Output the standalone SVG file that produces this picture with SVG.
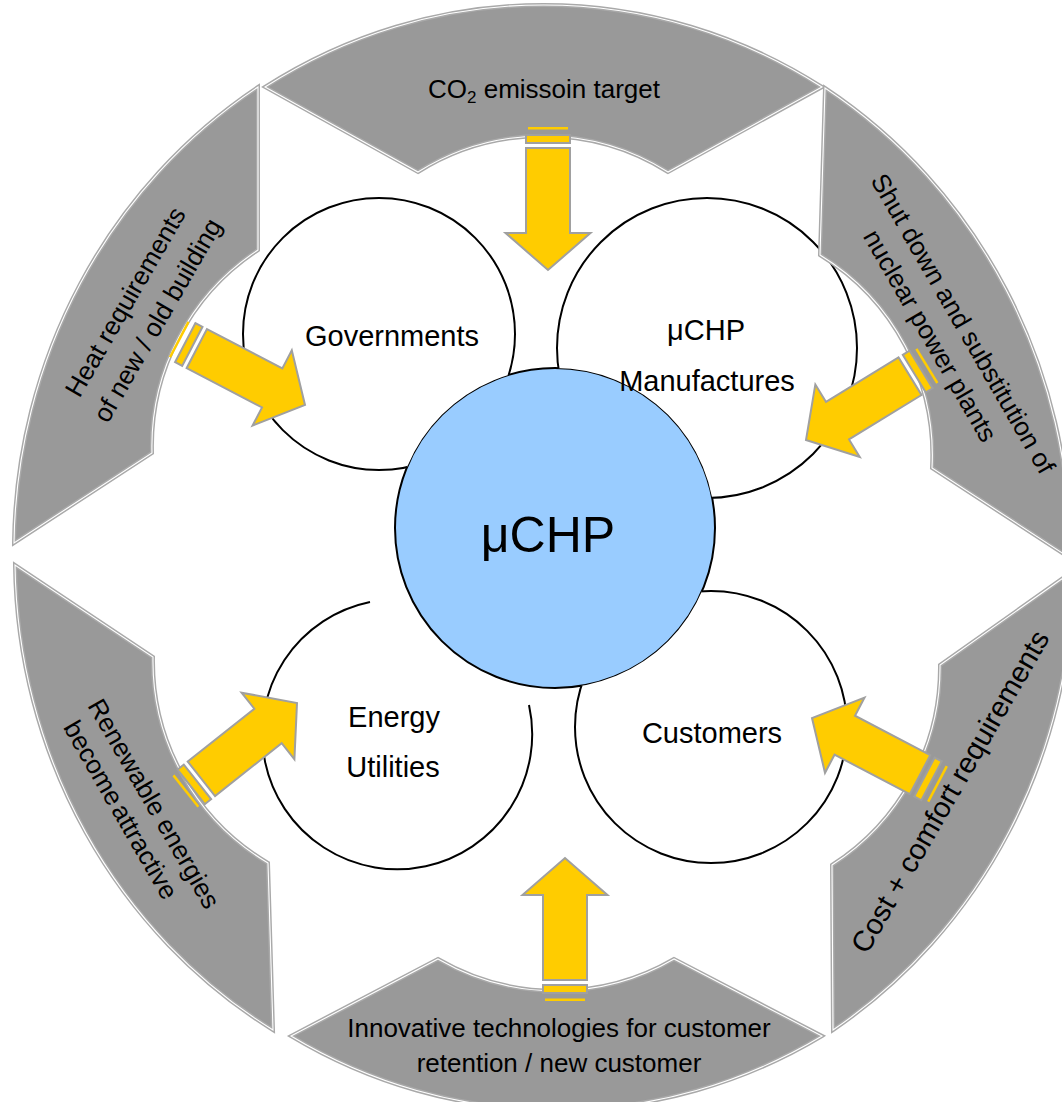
<svg xmlns="http://www.w3.org/2000/svg" xmlns:xlink="http://www.w3.org/1999/xlink" width="1062" height="1102" viewBox="0 0 1062 1102">
<style>
.seg{fill:#999999;stroke:#a9a9a9;stroke-width:4;stroke-linejoin:miter}
.segline{fill:none;stroke:#ffffff;stroke-width:1.1;stroke-linejoin:miter}
.node{fill:#ffffff;stroke:#000000;stroke-width:2}
.open{fill:none;stroke:#000000;stroke-width:2}
.hub{fill:#99ccff;stroke:#000000;stroke-width:2}
.t{font-family:"Liberation Sans",Arial,sans-serif;fill:#000000;text-anchor:middle}
.rl{font-size:26px}
.nl{font-size:29px}
.arr{fill:#ffcc00;stroke:#a0a0a0;stroke-width:2;stroke-linejoin:miter}
</style>
<defs>
<g id="arrow">
<rect x="-143" y="-20" width="2.5" height="40" fill="#ffcc00"/>
<rect class="arr" x="-135" y="-22" width="8" height="44"/>
<path class="arr" d="M-122,-22 L-37,-22 L-37,-42.5 L0,0 L-37,42.5 L-37,22 L-122,22 Z"/>
</g>
<clipPath id="outsideHub">
<path clip-rule="evenodd" d="M0,0H1062V1102H0Z M395,528a160,160 0 1,0 320,0a160,160 0 1,0 -320,0Z"/>
</clipPath>
</defs>

<g id="node-hub">
<circle class="hub" cx="555" cy="528" r="160"/>
<text class="t" x="548" y="552" font-size="50">μCHP</text>
</g>

<g id="node-governments">
<circle class="node" cx="379" cy="334" r="136" clip-path="url(#outsideHub)"/>
<text class="t nl" x="392" y="346">Governments</text>
</g>

<g id="node-manufactures">
<circle class="node" cx="707" cy="348" r="150" clip-path="url(#outsideHub)"/>
<text class="t nl" x="706" y="340">μCHP</text>
<text class="t nl" x="707" y="391">Manufactures</text>
</g>

<g id="node-energy">
<path class="open" d="M529,705 A135,135 0 1,1 370,602"/>
<text class="t nl" x="394" y="727">Energy</text>
<text class="t nl" x="393" y="777">Utilities</text>
</g>

<g id="node-customers">
<circle class="node" cx="711" cy="727" r="136" clip-path="url(#outsideHub)"/>
<text class="t nl" x="712" y="743">Customers</text>
</g>

<g id="seg-co2">
<path class="seg" d="M265,87 A530,550 0 0,1 822,87 L668,172 A235,235 0 0,0 418,172 Z"/>
<path class="segline" d="M265,87 A530,550 0 0,1 822,87 L668,172 A235,235 0 0,0 418,172 Z"/>
<text class="t rl" x="544" y="98">CO<tspan font-size="17" dy="5">2</tspan><tspan dy="-5"> emissoin target</tspan></text>
</g>

<g id="seg-heat">
<path class="seg" d="M14,543 A530,550 0 0,1 258,87 L258,250 A235,235 0 0,0 152,453 Z"/>
<path class="segline" d="M14,543 A530,550 0 0,1 258,87 L258,250 A235,235 0 0,0 152,453 Z"/>
<g transform="translate(141.75,311.25) rotate(-60)">
<text class="t rl" x="0" y="-10">Heat requirements</text>
<text class="t rl" x="0" y="27">of new / old building</text>
</g>
</g>

<g id="seg-nuclear">
<path class="seg" d="M825,88 A530,550 0 0,1 1070,558 L932,468 A235,235 0 0,0 820,255 Z"/>
<path class="segline" d="M825,88 A530,550 0 0,1 1070,558 L932,468 A235,235 0 0,0 820,255 Z"/>
<g transform="translate(946.5,329.75) rotate(60)">
<text class="t rl" x="2.9" y="-8.5">Shut down and substitution of</text>
<text class="t rl" x="-2.9" y="26">nuclear power plants</text>
</g>
</g>

<g id="seg-renewable">
<path class="seg" d="M273,1030 A530,550 0 0,1 15,565 L153,657 A235,235 0 0,0 268,863 Z"/>
<path class="segline" d="M273,1030 A530,550 0 0,1 15,565 L153,657 A235,235 0 0,0 268,863 Z"/>
<g transform="translate(137.5,806.75) rotate(60)">
<text class="t rl" x="5.5" y="-7">Renewable energies</text>
<text class="t rl" x="-5.5" y="25" word-spacing="-4">become attractive</text>
</g>
</g>

<g id="seg-cost">
<path class="seg" d="M1073,571 A530,550 0 0,1 833,1030 L832,865 A235,235 0 0,0 940,665 Z"/>
<path class="segline" d="M1073,571 A530,550 0 0,1 833,1030 L832,865 A235,235 0 0,0 940,665 Z"/>
<g transform="translate(950,791.5) rotate(-60)">
<text class="t" x="0" y="10" font-size="29">Cost + comfort requirements</text>
</g>
</g>

<g id="seg-innovative">
<path class="seg" d="M822,1036 A530,550 0 0,1 291,1036 L438,959 A235,235 0 0,0 674,959 Z"/>
<path class="segline" d="M822,1036 A530,550 0 0,1 291,1036 L438,959 A235,235 0 0,0 674,959 Z"/>
<text class="t rl" x="559" y="1037">Innovative technologies for customer</text>
<text class="t rl" x="559" y="1072">retention / new customer</text>
</g>

<g id="connectors">
<use xlink:href="#arrow" href="#arrow" transform="translate(548,270) rotate(90)"/>
<use xlink:href="#arrow" href="#arrow" transform="translate(305,405) rotate(27.5)"/>
<use xlink:href="#arrow" href="#arrow" transform="translate(806,440) rotate(148.5)"/>
<use xlink:href="#arrow" href="#arrow" transform="translate(297,703) rotate(-38.4)"/>
<use xlink:href="#arrow" href="#arrow" transform="translate(812,718) rotate(-152.3)"/>
<use xlink:href="#arrow" href="#arrow" transform="translate(565,858) rotate(-90)"/>
</g>
</svg>
